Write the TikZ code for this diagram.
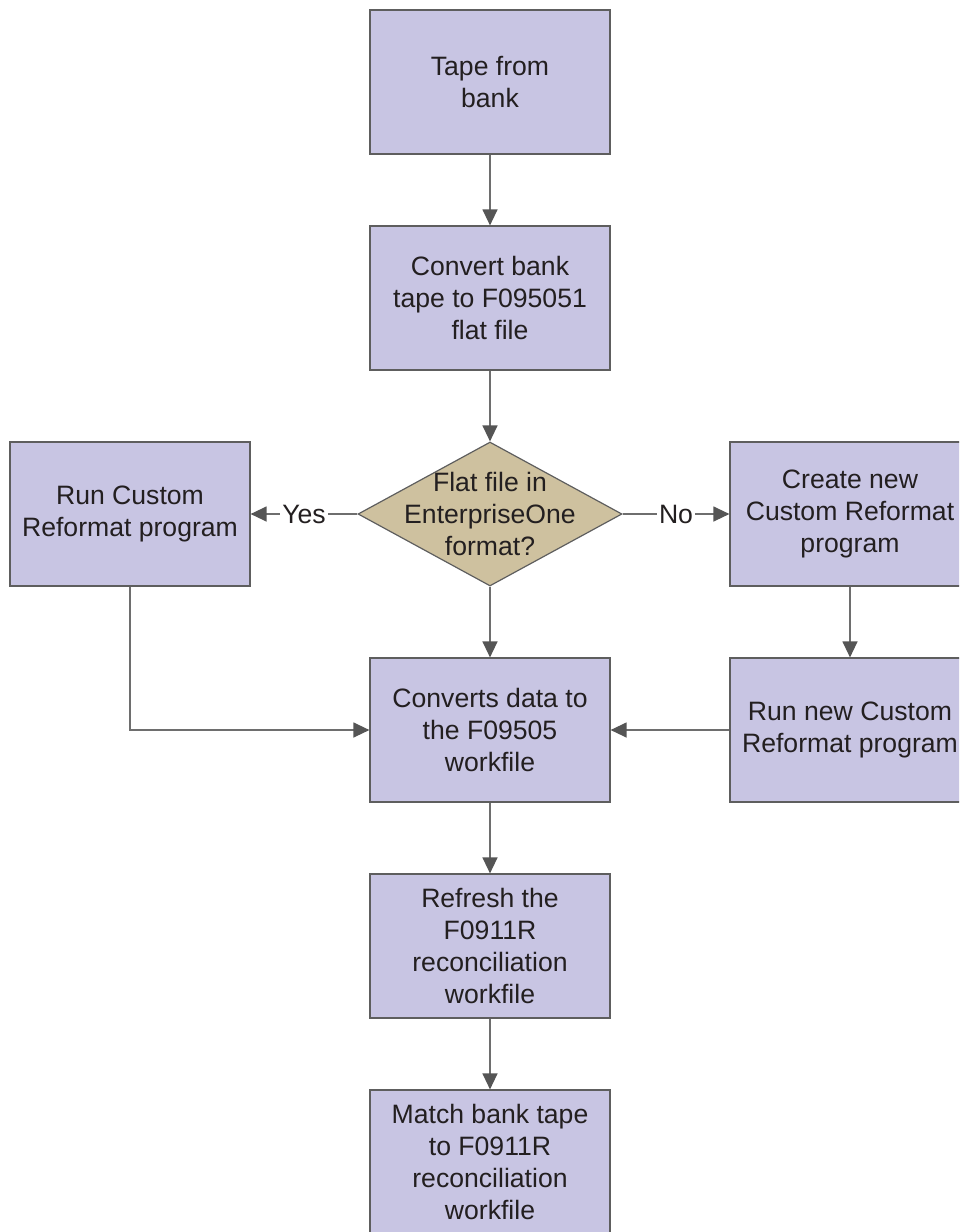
\documentclass[tikz,border=0pt]{standalone}
\usepackage{fontspec}
\setmainfont{Liberation Sans}
\usetikzlibrary{arrows.meta,shapes.geometric}
\definecolor{boxfill}{HTML}{C8C5E3}
\definecolor{decfill}{HTML}{CEC19F}
\definecolor{boxline}{HTML}{5E5E5E}
\definecolor{conline}{HTML}{6E6E6E}
\definecolor{tipcol}{HTML}{555555}
\definecolor{txt}{HTML}{231F20}
\begin{document}
\begin{tikzpicture}[x=1pt,y=-1pt,
  font=\fontsize{26.6}{32}\selectfont,
  stepbox/.style={rectangle,draw=boxline,line width=1.2pt,fill=boxfill,
    minimum width=240pt,minimum height=144pt,align=center,text=txt,inner sep=0pt},
  decbox/.style={diamond,draw=boxline,line width=1.2pt,fill=decfill,
    minimum width=264pt,minimum height=144pt,inner sep=0pt},
  conn/.style={draw=conline,line width=1.3pt,
    -{Triangle[length=16pt,width=15pt,fill=tipcol,color=tipcol]}},
  lbl/.style={fill=white,inner sep=2pt,text=txt}]
\useasboundingbox (0,0) rectangle (959,1232);
\clip (0,0) rectangle (959,1232);
\node[stepbox] (tape) at (490,82) {Tape from\\bank};
\node[stepbox] (conv) at (490,298) {Convert bank\\tape to F095051\\flat file};
\node[decbox] (dec) at (490,514) {};
\node[align=center,text=txt,inner sep=0pt] (dect) at (490,514) {Flat file in\\EnterpriseOne\\format?};
\node[stepbox] (left) at (130,514) {Run Custom\\Reformat program};
\node[stepbox] (right1) at (850,514) {Create new\\Custom Reformat\\program};
\node[stepbox] (cvt) at (490,730) {Converts data to\\the F09505\\workfile};
\node[stepbox] (right2) at (850,730) {Run new Custom\\Reformat program};
\node[stepbox] (ref) at (490,946) {Refresh the\\F0911R\\reconciliation\\workfile};
\node[stepbox] (match) at (490,1162) {Match bank tape\\to F0911R\\reconciliation\\workfile};
\draw[conn] (tape.south) -- (conv.north);
\draw[conn] (conv.south) -- (dec.north);
\draw[conn] (dec.west) -- node[lbl] (yes) {Yes} (left.east);
\draw[conn] (dec.east) -- node[lbl] (no) {No} (right1.west);
\draw[conn] (dec.south) -- (cvt.north);
\draw[conn] (left.south) |- (cvt.west);
\draw[conn] (right1.south) -- (right2.north);
\draw[conn] (right2.west) -- (cvt.east);
\draw[conn] (cvt.south) -- (ref.north);
\draw[conn] (ref.south) -- (match.north);
\end{tikzpicture}
\end{document}
